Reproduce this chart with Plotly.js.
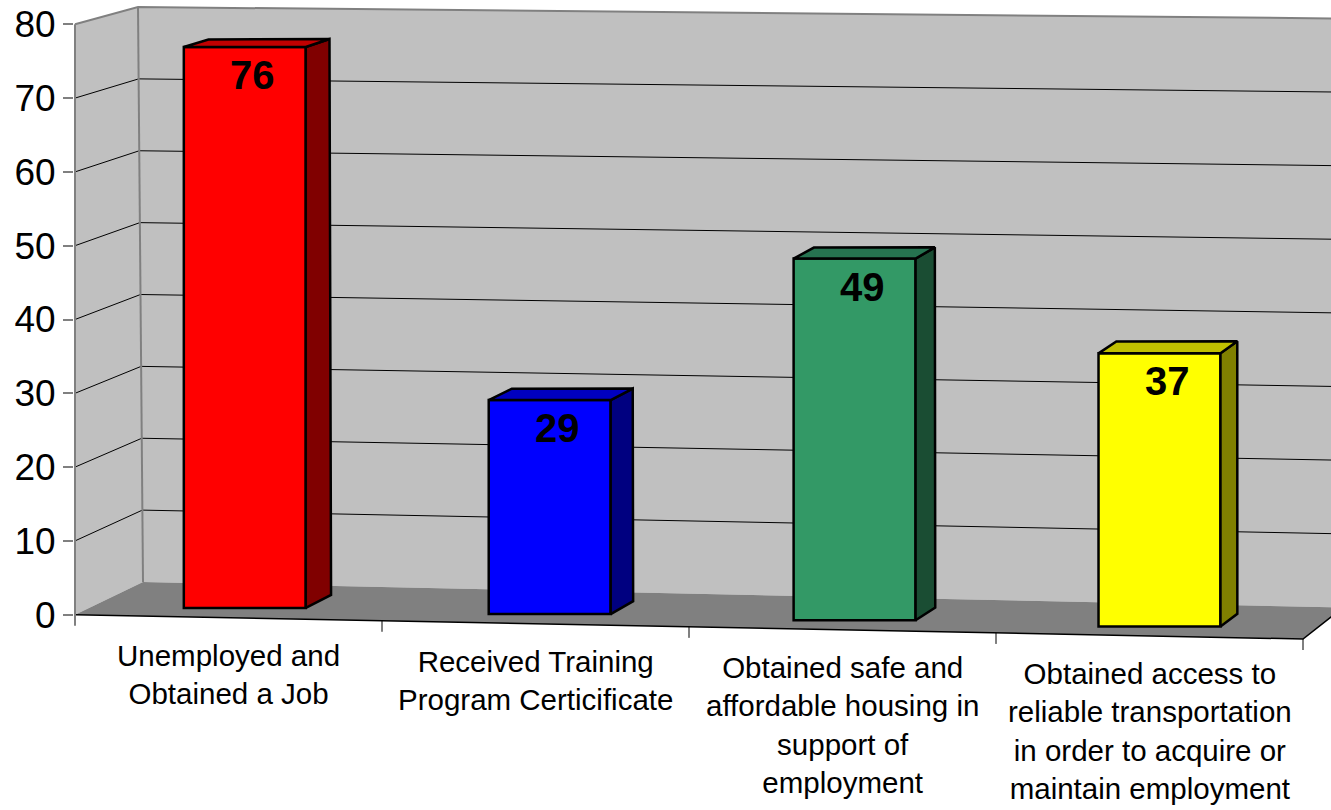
<!DOCTYPE html>
<html>
<head>
<meta charset="utf-8">
<script src="https://cdn.plot.ly/plotly-3.0.1.min.js"></script>
<style>html,body{margin:0;padding:0;background:#fff;}</style>
</head>
<body>
<div id="chart" style="width:1331px;height:810px;"></div>
<script>
// ---------------- data ----------------
const categories = [
  "Unemployed and<br>Obtained a Job",
  "Received Training<br>Program Certicificate",
  "Obtained safe and<br>affordable housing in<br>support of<br>employment",
  "Obtained access to<br>reliable transportation<br>in order to acquire or<br>maintain employment"
];
const values = [76, 29, 49, 37];
const valueLabels = ["76", "29", "49", "37"];
const yTickValues = [0, 10, 20, 30, 40, 50, 60, 70, 80];
const frontColors = ["#FF0000", "#0000FF", "#339966", "#FFFF00"];
const sideColors  = ["#800000", "#000080", "#1A4D33", "#808000"];
const topColors   = ["#C00000", "#0000C0", "#267350", "#C0C000"];

// ---------------- 3-D scene projection (into the front-plane axes) ----------------
const N = categories.length;
const ZMAX = yTickValues[yTickValues.length - 1];
// box corners: F/B = front/back, L/R = left/right, B/T = bottom/top (axis units)
const C = {
  FLB: [-0.5, 0],       FRB: [N - 0.5, -3.293],
  FLT: [-0.5, 80],      FRT: [N - 0.5, 76.707],
  BLB: [-0.2785, 4.431], BRB: [3.6303, 0.976],
  BLT: [-0.2948, 82.344], BRT: [3.6303, 80.786]
};
function lerp(a, b, t) { return [a[0] + (b[0] - a[0]) * t, a[1] + (b[1] - a[1]) * t]; }
function P(u, z, d) {
  const s = (u + 0.5) / N, t = z / ZMAX;
  const f = lerp(lerp(C.FLB, C.FRB, s), lerp(C.FLT, C.FRT, s), t);
  const b = lerp(lerp(C.BLB, C.BRB, s), lerp(C.BLT, C.BRT, s), t);
  return lerp(f, b, d);
}
const BAR_W = 0.4, D0 = 0.3, D1 = 0.7, U_SHIFT = -0.01;
const PX_PER_UNIT_Y = 7.38, TICK_UNITS = 11 / PX_PER_UNIT_Y;

function pathOf(pts, close) {
  return pts.map((p, k) => (k ? "L" : "M") + p[0].toFixed(5) + "," + p[1].toFixed(5)).join(" ") + (close ? " Z" : "");
}

// ---------------- walls, floor, gridlines ----------------
const shapes = [];
const uL = -0.5, uR = N - 0.5;
shapes.push({ type: "path", xref: "x", yref: "y", layer: "below", fillcolor: "#C0C0C0", line: { width: 0 },
  path: pathOf([P(uL, 0, 0), P(uL, 0, 1), P(uL, ZMAX, 1), P(uL, ZMAX, 0)], true) });
shapes.push({ type: "path", xref: "x", yref: "y", layer: "below", fillcolor: "#C0C0C0", line: { width: 0 },
  path: pathOf([P(uL, 0, 1), P(uR, 0, 1), P(uR, ZMAX, 1), P(uL, ZMAX, 1)], true) });
shapes.push({ type: "path", xref: "x", yref: "y", layer: "below", fillcolor: "#808080", line: { width: 0 },
  path: pathOf([P(uL, 0, 0), P(uR, 0, 0), P(uR, 0, 1), P(uL, 0, 1)], true) });
yTickValues.forEach(z => {
  if (z === 0) return;
  const top = z === ZMAX;
  shapes.push({ type: "path", xref: "x", yref: "y", layer: "below",
    line: { color: top ? "#808080" : "#000000", width: top ? 2 : 1 },
    path: pathOf([P(uL, z, 0), P(uL, z, 1), P(uR, z, 1)], false) });
});
// back wall left edge
shapes.push({ type: "path", xref: "x", yref: "y", layer: "below", line: { color: "#808080", width: 2 },
  path: pathOf([P(uL, 0, 1), P(uL, ZMAX, 1)], false) });
// front bottom edge and floor right edge
shapes.push({ type: "path", xref: "x", yref: "y", layer: "below", line: { color: "#000000", width: 1.5 },
  path: pathOf([P(uL, 0, 0), P(uR, 0, 0), P(uR, 0, 1)], false) });
// front value axis line (extends down as first category tick)
{
  const a = P(uL, ZMAX, 0), b = P(uL, 0, 0);
  shapes.push({ type: "path", xref: "x", yref: "y", layer: "below", line: { color: "#808080", width: 2 },
    path: pathOf([a, [b[0], b[1] - TICK_UNITS]], false) });
}
// category tick marks
for (let k = 1; k <= N; k++) {
  const p = P(-0.5 + k, 0, 0);
  shapes.push({ type: "path", xref: "x", yref: "y", layer: "below", line: { color: "#000000", width: 1 },
    path: pathOf([p, [p[0], p[1] - TICK_UNITS]], false) });
}

// ---------------- bars ----------------
const barX = [], barW = [], barBase = [];
values.forEach((v, i) => {
  const uc = i + U_SHIFT;
  const l = P(uc - BAR_W / 2, 0, D0), r = P(uc + BAR_W / 2, 0, D0), c = P(uc, 0, D0);
  barX.push((l[0] + r[0]) / 2); barW.push(r[0] - l[0]); barBase.push(c[1]);
});
const traces = [];
traces.push({
  type: "bar", x: barX, y: values, base: barBase, width: barW,
  marker: { color: frontColors, line: { color: "#000000", width: 2.5 } },
  hoverinfo: "y", showlegend: false
});
function depthVec(u, z) {
  const a = P(u, z, D0), b = P(u, z, D1);
  return [b[0] - a[0], b[1] - a[1]];
}
values.forEach((v, i) => {
  const uc = i + U_SHIFT, ul = uc - BAR_W / 2, ur = uc + BAR_W / 2;
  const xl = barX[i] - barW[i] / 2, xr = barX[i] + barW[i] / 2;
  const y0 = barBase[i], y1 = barBase[i] + v;
  const dR0 = depthVec(ur, 0), dRT = depthVec(ur, v), dLT = depthVec(ul, v);
  const side = [[xr, y0], [xr, y1], [xr + dRT[0], y1 + dRT[1]], [xr + dR0[0], y0 + dR0[1]], [xr, y0]];
  const top = [[xl, y1], [xr, y1], [xr + dRT[0], y1 + dRT[1]], [xl + dLT[0], y1 + dLT[1]], [xl, y1]];
  [[side, sideColors[i]], [top, topColors[i]]].forEach(([pts, col]) => {
    traces.push({
      type: "scatter", mode: "lines", x: pts.map(p => p[0]), y: pts.map(p => p[1]),
      fill: "toself", fillcolor: col, line: { color: "#000000", width: 2.5 },
      hoverinfo: "skip", showlegend: false
    });
  });
});

// ---------------- labels ----------------
const FONT = "Arial, 'Liberation Sans', sans-serif";
const annotations = [];
values.forEach((v, i) => {
  annotations.push({
    x: barX[i], y: barBase[i] + v, xref: "x", yref: "y", text: valueLabels[i],
    showarrow: false, xanchor: "center", yanchor: "top", xshift: 8, yshift: -4,
    font: { family: FONT, size: 40, color: "#000000", weight: 700 }
  });
});
categories.forEach((c, i) => {
  const p = P(i, 0, 0);
  annotations.push({
    x: p[0], y: p[1], xref: "x", yref: "y", text: c, showarrow: false,
    xanchor: "center", yanchor: "top", yshift: -19, align: "center",
    font: { family: FONT, size: 29.5, color: "#000000" }
  });
});

const W = 1331, H = 810, ML = 74, X0PX = 75, CAT_PX = 307, Y0PX = 614.7;
const layout = {
  width: W, height: H,
  margin: { l: ML, r: 0, t: 0, b: 0, pad: 0 },
  paper_bgcolor: "#FFFFFF", plot_bgcolor: "#FFFFFF",
  showlegend: false,
  xaxis: { range: [-0.5 - (X0PX - ML) / CAT_PX, -0.5 + (W - X0PX) / CAT_PX], visible: false, fixedrange: true },
  yaxis: {
    range: [(Y0PX - H) / PX_PER_UNIT_Y, Y0PX / PX_PER_UNIT_Y],
    tickmode: "array", tickvals: yTickValues, ticktext: yTickValues.map(String),
    ticks: "outside", ticklen: 10, tickwidth: 2, tickcolor: "#808080",
    ticklabelstandoff: 0,
    tickfont: { family: FONT, size: 37, color: "#000000" },
    showgrid: false, zeroline: false, showline: false, fixedrange: true
  },
  shapes: shapes,
  annotations: annotations
};
Plotly.newPlot("chart", traces, layout, { displayModeBar: false, staticPlot: true });
</script>
</body>
</html>
